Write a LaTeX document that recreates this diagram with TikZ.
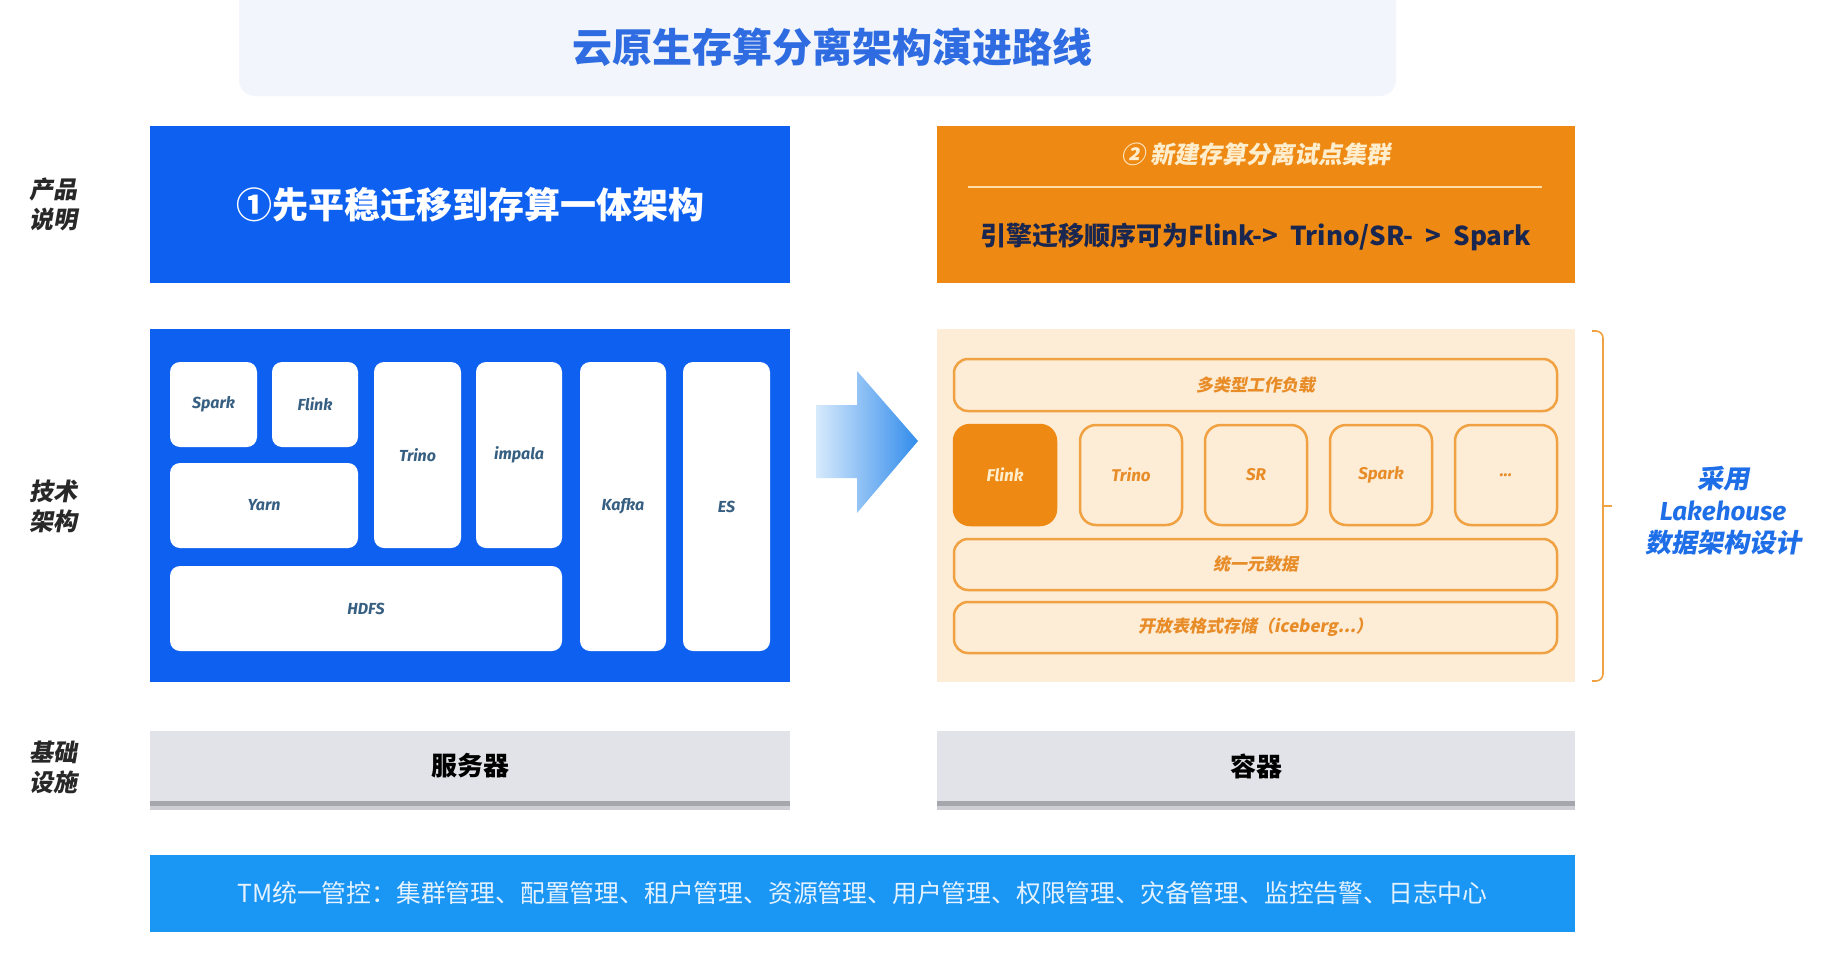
\documentclass[tikz,border=0pt]{standalone}
\usepackage{fontspec}
\setmainfont{Noto Sans CJK SC}
\newfontfamily\cjk{Noto Sans CJK SC}
\newfontfamily\cjksl[FakeSlant=0.18]{Noto Sans CJK SC}
\newfontfamily\latit{Fira Sans}
\usetikzlibrary{decorations.pathreplacing}
\definecolor{titlebg}{RGB}{242,246,252}
\definecolor{titleblue}{RGB}{47,108,225}
\definecolor{mainblue}{RGB}{14,97,240}
\definecolor{mainorange}{RGB}{238,138,20}
\definecolor{peach}{RGB}{253,236,214}
\definecolor{orline}{RGB}{240,162,66}
\definecolor{ortext}{RGB}{232,140,40}
\definecolor{barblue}{RGB}{26,150,245}
\definecolor{servgray}{RGB}{225,227,232}
\definecolor{shadowgray}{RGB}{165,167,172}
\definecolor{shadowlight}{RGB}{205,207,212}
\definecolor{techtext}{RGB}{55,95,130}
\definecolor{navy}{RGB}{25,38,80}
\definecolor{lakeblue}{RGB}{30,110,232}
\definecolor{creamline}{RGB}{255,222,170}
\definecolor{creamtext}{RGB}{255,238,205}
\definecolor{lbltext}{RGB}{40,40,40}
\definecolor{bartext}{RGB}{228,242,255}
\definecolor{arrowlight}{RGB}{215,234,252}
\definecolor{arrowdark}{RGB}{50,140,235}
\begin{document}
\begin{tikzpicture}[x=1pt,y=-1pt,
  box/.style={anchor=north west, inner sep=0pt, outer sep=0pt},
  techbox/.style={box, fill=white, rounded corners=10pt,
    font=\latit\bfseries\itshape\fontsize{16}{20}\selectfont, text=techtext},
  orwide/.style={box, fill=peach, draw=orline, line width=2.5pt, rounded corners=14pt,
    font=\cjksl\bfseries\fontsize{17}{20}\selectfont, text=ortext},
  orengine/.style={box, fill=peach, draw=orline, line width=2.5pt, rounded corners=16pt,
    font=\latit\bfseries\itshape\fontsize{17}{20}\selectfont, text=ortext,
    minimum width=102pt, minimum height=100pt},
  sidelabel/.style={font=\cjksl\bfseries\fontsize{24}{30}\selectfont, align=center, text=lbltext},
  servbox/.style={box, fill=servgray, minimum width=640pt, minimum height=70pt,
    font=\cjk\bfseries\fontsize{26}{30}\selectfont, text=black}
]
\clip (0,0) rectangle (1829,961);
\fill[white] (0,0) rectangle (1829,961);

% title
\fill[titlebg, rounded corners=16pt] (239,-30) rectangle (1396,96);
\node[font=\cjk\bfseries\fontsize{40}{46}\selectfont, text=titleblue] (title) at (832,47) {云原生存算分离架构演进路线};

% side labels
\node[sidelabel] (lblprod) at (53,204) {产品\\说明};
\node[sidelabel] (lbltech) at (53,506) {技术\\架构};
\node[sidelabel] (lblinfra) at (53,767) {基础\\设施};

% product row
\node[box, fill=mainblue, minimum width=640pt, minimum height=157pt,
  font=\cjk\bfseries\fontsize{36}{40}\selectfont, text=white] (prod1) at (150,126) {①先平稳迁移到存算一体架构};
\node[box, fill=mainorange, minimum width=638pt, minimum height=157pt] (prod2) at (937,126) {};
\node[font=\cjksl\bfseries\fontsize{24}{28}\selectfont, text=creamtext] (prod2head) at (1256,154) {② 新建存算分离试点集群};
\draw[creamline, line width=2pt] (968,187) -- (1542,187);
\node[font=\cjk\bfseries\fontsize{26}{28}\selectfont, text=navy] (prod2body) at (1256,237) {引擎迁移顺序可为Flink-> \ Trino/SR- \ > \ Spark};

% tech architecture left
\node[box, fill=mainblue, minimum width=640pt, minimum height=353pt] (arch1) at (150,329) {};
\node[techbox, minimum width=87pt, minimum height=85pt] (spark1) at (170,362) {Spark};
\node[techbox, minimum width=86pt, minimum height=85pt] (flink1) at (272,362) {Flink};
\node[techbox, minimum width=87pt, minimum height=186pt] (trino1) at (374,362) {Trino};
\node[techbox, minimum width=86pt, minimum height=186pt] (impala1) at (476,362) {impala};
\node[techbox, minimum width=188pt, minimum height=85pt] (yarn1) at (170,463) {Yarn};
\node[techbox, minimum width=392pt, minimum height=85pt] (hdfs1) at (170,566) {HDFS};
\node[techbox, minimum width=86pt, minimum height=289pt] (kafka1) at (580,362) {Kafka};
\node[techbox, minimum width=87pt, minimum height=289pt] (es1) at (683,362) {ES};

% arrow
\shade[left color=arrowlight, right color=arrowdark]
  (816,405) -- (857,405) -- (857,371) -- (918,441) -- (857,513) -- (857,478) -- (816,478) -- cycle;

% tech architecture right
\node[box, fill=peach, minimum width=638pt, minimum height=353pt] (arch2) at (937,329) {};
\node[orwide, minimum width=603pt, minimum height=52pt] (workload) at (954,359) {多类型工作负载};
\node[orengine, fill=mainorange, draw=mainorange, text=creamtext] (flink2) at (954,425) {Flink};
\node[orengine] (trino2) at (1080,425) {Trino};
\node[orengine] (sr2) at (1205,425) {SR};
\node[orengine] (spark2) at (1330,425) {Spark};
\node[orengine] (more2) at (1455,425) {...};
\node[orwide, minimum width=603pt, minimum height=51pt] (meta) at (954,539) {统一元数据};
\node[orwide, minimum width=603pt, minimum height=51pt] (storage) at (954,602) {开放表格式存储（iceberg...）};

% brace
\coordinate (bracetop) at (1592,331);
\coordinate (bracemid) at (1603,506);
\coordinate (bracebot) at (1592,681);
\coordinate (bracetip) at (1612,506);
\draw[orline, line width=1.6pt, rounded corners=7pt] (bracetop) -| (bracemid) |- (bracebot);
\draw[orline, line width=1.6pt] (bracemid) -- (bracetip);
\node[font=\cjksl\bfseries\fontsize{26}{32}\selectfont, text=lakeblue, align=center] (lake) at (1723,511)
  {采用\\{\latit\bfseries\itshape Lakehouse}\\数据架构设计};

% infrastructure
\fill[shadowlight] (150,737) rectangle (790,810);
\fill[shadowgray] (150,737) rectangle (790,806);
\node[servbox] (server) at (150,731) {服务器};
\fill[shadowlight] (937,737) rectangle (1575,810);
\fill[shadowgray] (937,737) rectangle (1575,806);
\node[servbox, minimum width=638pt] (container) at (937,731) {容器};

% bottom bar
\node[box, fill=barblue, minimum width=1425pt, minimum height=77pt,
  font=\cjk\fontsize{24.8}{28}\selectfont, text=bartext] (tm) at (150,855)
  {TM统一管控：集群管理、配置管理、租户管理、资源管理、用户管理、权限管理、灾备管理、监控告警、日志中心};
\end{tikzpicture}
\end{document}
